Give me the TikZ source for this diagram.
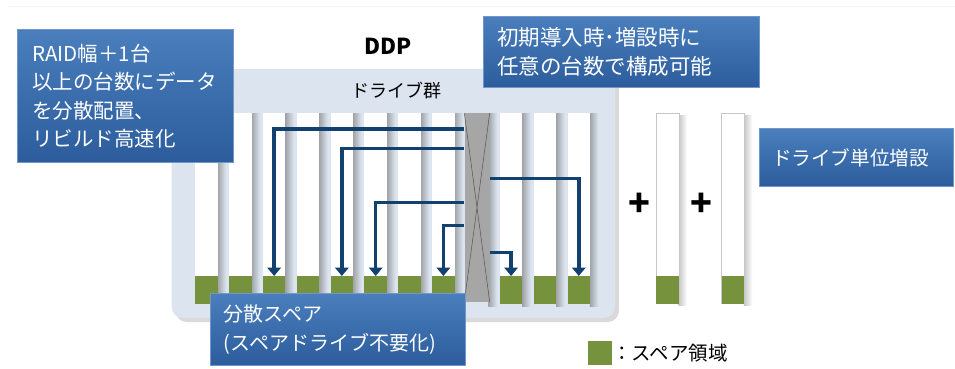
\documentclass[tikz,border=0pt]{standalone}
\usepackage{fontspec}
\setmainfont{Noto Sans CJK JP}
\usetikzlibrary{arrows.meta,shadows}
\definecolor{bgblue}{HTML}{DBE4EF}
\definecolor{boxtop}{HTML}{4A7EBD}
\definecolor{boxbot}{HTML}{2C5C9B}
\definecolor{boxedge}{HTML}{7097C9}
\definecolor{sparegreen}{HTML}{77923C}
\definecolor{arrowblue}{HTML}{12406F}
\definecolor{failgray}{HTML}{A6A6A6}
\newcommand{\fs}[1]{\fontsize{#1}{28.3}\selectfont}
\tikzset{
  bluebox/.style={rectangle, top color=boxtop, bottom color=boxbot, draw=boxedge, line width=.6pt,
    text=white, align=left, anchor=north west, inner ysep=0pt},
  drive/.style={rectangle, fill=white, minimum width=22.5pt, minimum height=190.3pt, inner sep=0pt, anchor=north west},
  spare/.style={rectangle, fill=sparegreen, minimum width=22.5pt, minimum height=27.3pt, inner sep=0pt, anchor=north west},
  moveline/.style={draw=arrowblue, line width=3.4pt, -{Triangle[width=13.5pt,length=8.5pt]}},
}
\begin{document}
\begin{tikzpicture}[x=1pt,y=-1pt]
        \useasboundingbox (0,0) rectangle (955,369);
        \draw[gray!8, line width=.6pt] (8,6) -- (955,6);
        \fill[bgblue, rounded corners=11pt, drop shadow={shadow xshift=4pt, shadow yshift=-4pt, opacity=.3}] (171.7,69) rectangle (614.8,318);
        \foreach \i in {1,...,12} {
                \pgfmathsetmacro{\xl}{195+33.85*(\i-1)}
                \shade[left color=gray!65!bgblue, right color=bgblue] (\xl+22.5,113) rectangle (\xl+31,306);
        }
        \foreach \i in {1,...,8,10,11,12} {
                \pgfmathsetmacro{\xl}{195+33.85*(\i-1)}
                \node[drive] (d\i) at (\xl,113) {};
                \node[spare] (sp\i) at (\xl,276) {};
        }
        \node[rectangle, fill=failgray, minimum width=25pt, minimum height=188.5pt, inner sep=0pt, anchor=north west] (fail) at (464.3,113) {};
        \draw[gray!65!black, line width=.5pt] (fail.north west) -- (fail.south east) (fail.north east) -- (fail.south west);
        \draw[moveline] (fail.west |- 0,129) -| (sp3.north);
        \draw[moveline] (fail.west |- 0,148.3) -| (sp5.north);
        \draw[moveline] (fail.west |- 0,202.7) -| (sp6.north);
        \draw[moveline] (fail.west |- 0,225.7) -| (sp8.north);
        \draw[moveline] (fail.east |- 0,178.3) -| (sp12.north);
        \draw[moveline] (fail.east |- 0,252.3) -| (sp10.north);
        % added drives
        \foreach \i/\xl in {1/656, 2/721.3} {
                \shade[left color=gray!45, right color=white] (\xl+22.5,115) rectangle (\xl+31,305);
                \node[drive, draw=gray!45, line width=.6pt] (add\i) at (\xl,113) {};
                \node[spare] (addsp\i) at (\xl,276) {};
        }
        \node[font=\bfseries\fs{36}] (plus1) at (639,205) {+};
        \node[font=\bfseries\fs{36}] (plus2) at (701,205) {+};
        \node[spare, minimum width=24.4pt, minimum height=24.3pt] (legsq) at (587.3,340.7) {};
        \node[anchor=west, inner sep=0pt, font=\fs{19.5}] (legtxt) at (612,353) {：スペア領域};
        \node[font=\bfseries\fs{22}] (ddp) at (388,46) {DDP};
        \node[font=\fs{18}] (grp) at (396.5,91) {ドライブ群};
        \node[bluebox, minimum width=216pt, minimum height=133pt, text width=187pt, inner xsep=14.4pt, font=\fs{20.5}] (raid) at (17.3,29.3)
                {RAID幅＋1台\\以上の台数にデータ\\を分散配置、\\リビルド高速化};
        \node[bluebox, minimum width=275.7pt, minimum height=71.3pt, text width=249pt, inner xsep=13.4pt, font=\fs{21.5}] (init) at (483.3,16)
                {初期導入時･増設時に\\任意の台数で構成可能};
        \node[bluebox, minimum width=193.7pt, minimum height=57.7pt, text width=168pt, inner xsep=12.7pt, font=\fs{19.6}] (unit) at (759,128.3)
                {ドライブ単位増設};
        \node[bluebox, minimum width=255pt, minimum height=71.7pt, text width=228pt, inner xsep=13.3pt, font=\fs{20}] (dist) at (210,293.3)
                {分散スペア\\(スペアドライブ不要化)};
\end{tikzpicture}
\end{document}
